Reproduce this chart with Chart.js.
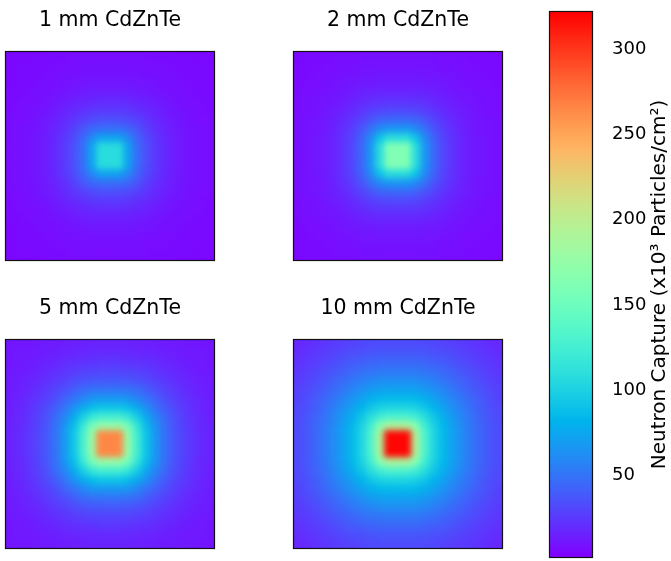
<!DOCTYPE html>
<html>
<head>
<meta charset="utf-8">
<title>Neutron capture maps</title>
<script src="https://cdn.jsdelivr.net/npm/chart.js"></script>
<style>
  body { margin: 0; background: #fff; }
  #wrap { position: relative; width: 671px; height: 561px; }
  canvas { position: absolute; }
</style>
</head>
<body>
<div id="wrap">
  <canvas id="p0" width="220" height="262" style="left:0px;top:0px"></canvas>
  <canvas id="p1" width="220" height="262" style="left:288px;top:0px"></canvas>
  <canvas id="p2" width="220" height="262" style="left:0px;top:288px"></canvas>
  <canvas id="p3" width="220" height="262" style="left:288px;top:288px"></canvas>
  <canvas id="cbar" width="131" height="561" style="left:540px;top:0px"></canvas>
</div>
<script>
// colour scale range, x10^3 particles/cm^2
const V_MIN = 2;
const V_MAX = 322;
const CBAR_TICKS = [50, 100, 150, 200, 250, 300];
const CBAR_LABEL = 'Neutron Capture (x10³ Particles/cm²)';
const TITLES = ['1 mm CdZnTe', '2 mm CdZnTe', '5 mm CdZnTe', '10 mm CdZnTe'];

// capture maps, 23 x 23 cells, top row first
const GRID_1MM = [
  [5,5,5,5,6,6,6,7,7,7,7,7,7,7,7,7,6,6,6,5,5,5,5],
  [5,5,6,6,6,7,7,7,8,8,8,8,8,8,8,7,7,7,6,6,6,5,5],
  [5,6,6,6,7,7,8,8,9,9,9,9,9,9,9,8,8,7,7,6,6,6,5],
  [5,6,6,7,8,8,9,10,10,11,11,11,11,11,10,10,9,8,8,7,6,6,5],
  [6,6,7,8,8,9,10,12,13,14,14,14,14,14,13,12,10,9,8,8,7,6,6],
  [6,7,7,8,9,11,13,15,17,18,19,19,19,18,17,15,13,11,9,8,7,7,6],
  [6,7,8,9,10,13,16,19,21,24,25,25,25,24,21,19,16,13,10,9,8,7,6],
  [7,7,8,10,12,15,19,23,28,32,34,34,34,32,28,23,19,15,12,10,8,7,7],
  [7,8,9,10,13,17,21,28,37,44,48,48,48,44,37,28,21,17,13,10,9,8,7],
  [7,8,9,11,14,18,24,32,44,60,72,72,72,60,44,32,24,18,14,11,9,8,7],
  [7,8,9,11,14,19,25,34,48,72,108,108,108,72,48,34,25,19,14,11,9,8,7],
  [7,8,9,11,14,19,25,34,48,72,108,108,108,72,48,34,25,19,14,11,9,8,7],
  [7,8,9,11,14,19,25,34,48,72,108,108,108,72,48,34,25,19,14,11,9,8,7],
  [7,8,9,11,14,18,24,32,44,60,72,72,72,60,44,32,24,18,14,11,9,8,7],
  [7,8,9,10,13,17,21,28,37,44,48,48,48,44,37,28,21,17,13,10,9,8,7],
  [7,7,8,10,12,15,19,23,28,32,34,34,34,32,28,23,19,15,12,10,8,7,7],
  [6,7,8,9,10,13,16,19,21,24,25,25,25,24,21,19,16,13,10,9,8,7,6],
  [6,7,7,8,9,11,13,15,17,18,19,19,19,18,17,15,13,11,9,8,7,7,6],
  [6,6,7,8,8,9,10,12,13,14,14,14,14,14,13,12,10,9,8,8,7,6,6],
  [5,6,6,7,8,8,9,10,10,11,11,11,11,11,10,10,9,8,8,7,6,6,5],
  [5,6,6,6,7,7,8,8,9,9,9,9,9,9,9,8,8,7,7,6,6,6,5],
  [5,5,6,6,6,7,7,7,8,8,8,8,8,8,8,7,7,7,6,6,6,5,5],
  [5,5,5,5,6,6,6,7,7,7,7,7,7,7,7,7,6,6,6,5,5,5,5]
];

const GRID_2MM = [
  [5,6,6,6,7,7,7,8,8,8,8,8,8,8,8,8,7,7,7,6,6,6,5],
  [6,6,6,7,7,8,8,9,9,9,9,9,9,9,9,9,8,8,7,7,6,6,6],
  [6,6,7,7,8,9,9,10,10,11,11,11,11,11,10,10,9,9,8,7,7,6,6],
  [6,7,7,8,9,10,11,12,12,13,13,13,13,13,12,12,11,10,9,8,7,7,6],
  [7,7,8,9,10,11,13,15,16,17,17,17,17,17,16,15,13,11,10,9,8,7,7],
  [7,8,9,10,11,13,16,18,21,22,23,23,23,22,21,18,16,13,11,10,9,8,7],
  [7,8,9,11,13,16,19,23,27,30,31,31,31,30,27,23,19,16,13,11,9,8,7],
  [8,9,10,12,15,18,23,29,36,42,45,45,45,42,36,29,23,18,15,12,10,9,8],
  [8,9,10,12,16,21,27,36,49,60,66,66,66,60,49,36,27,21,16,12,10,9,8],
  [8,9,11,13,17,22,30,42,60,90,108,108,108,90,60,42,30,22,17,13,11,9,8],
  [8,9,11,13,17,23,31,45,66,108,162,162,162,108,66,45,31,23,17,13,11,9,8],
  [8,9,11,13,17,23,31,45,66,108,162,162,162,108,66,45,31,23,17,13,11,9,8],
  [8,9,11,13,17,23,31,45,66,108,162,162,162,108,66,45,31,23,17,13,11,9,8],
  [8,9,11,13,17,22,30,42,60,90,108,108,108,90,60,42,30,22,17,13,11,9,8],
  [8,9,10,12,16,21,27,36,49,60,66,66,66,60,49,36,27,21,16,12,10,9,8],
  [8,9,10,12,15,18,23,29,36,42,45,45,45,42,36,29,23,18,15,12,10,9,8],
  [7,8,9,11,13,16,19,23,27,30,31,31,31,30,27,23,19,16,13,11,9,8,7],
  [7,8,9,10,11,13,16,18,21,22,23,23,23,22,21,18,16,13,11,10,9,8,7],
  [7,7,8,9,10,11,13,15,16,17,17,17,17,17,16,15,13,11,10,9,8,7,7],
  [6,7,7,8,9,10,11,12,12,13,13,13,13,13,12,12,11,10,9,8,7,7,6],
  [6,6,7,7,8,9,9,10,10,11,11,11,11,11,10,10,9,9,8,7,7,6,6],
  [6,6,6,7,7,8,8,9,9,9,9,9,9,9,9,9,8,8,7,7,6,6,6],
  [5,6,6,6,7,7,7,8,8,8,8,8,8,8,8,8,7,7,7,6,6,6,5]
];

const GRID_5MM = [
  [10,11,11,12,13,13,14,15,15,16,16,16,16,16,15,15,14,13,13,12,11,11,10],
  [11,12,12,13,14,15,16,17,18,18,19,19,19,18,18,17,16,15,14,13,12,12,11],
  [11,12,13,14,16,17,20,21,22,23,24,24,24,23,22,21,20,17,16,14,13,12,11],
  [12,13,14,16,18,21,23,26,28,29,30,30,30,29,28,26,23,21,18,16,14,13,12],
  [13,14,16,18,21,25,28,32,35,37,38,38,38,37,35,32,28,25,21,18,16,14,13],
  [13,15,17,21,25,29,34,40,46,49,50,50,50,49,46,40,34,29,25,21,17,15,13],
  [14,16,20,23,28,34,42,50,58,65,67,67,67,65,58,50,42,34,28,23,20,16,14],
  [15,17,21,26,32,40,50,63,76,87,91,91,91,87,76,63,50,40,32,26,21,17,15],
  [15,18,22,28,35,46,58,76,97,116,125,125,125,116,97,76,58,46,35,28,22,18,15],
  [16,18,23,29,37,49,65,87,116,155,175,175,175,155,116,87,65,49,37,29,23,18,16],
  [16,19,24,30,38,50,67,91,125,175,265,265,265,175,125,91,67,50,38,30,24,19,16],
  [16,19,24,30,38,50,67,91,125,175,265,265,265,175,125,91,67,50,38,30,24,19,16],
  [16,19,24,30,38,50,67,91,125,175,265,265,265,175,125,91,67,50,38,30,24,19,16],
  [16,18,23,29,37,49,65,87,116,155,175,175,175,155,116,87,65,49,37,29,23,18,16],
  [15,18,22,28,35,46,58,76,97,116,125,125,125,116,97,76,58,46,35,28,22,18,15],
  [15,17,21,26,32,40,50,63,76,87,91,91,91,87,76,63,50,40,32,26,21,17,15],
  [14,16,20,23,28,34,42,50,58,65,67,67,67,65,58,50,42,34,28,23,20,16,14],
  [13,15,17,21,25,29,34,40,46,49,50,50,50,49,46,40,34,29,25,21,17,15,13],
  [13,14,16,18,21,25,28,32,35,37,38,38,38,37,35,32,28,25,21,18,16,14,13],
  [12,13,14,16,18,21,23,26,28,29,30,30,30,29,28,26,23,21,18,16,14,13,12],
  [11,12,13,14,16,17,20,21,22,23,24,24,24,23,22,21,20,17,16,14,13,12,11],
  [11,12,12,13,14,15,16,17,18,18,19,19,19,18,18,17,16,15,14,13,12,12,11],
  [10,11,11,12,13,13,14,15,15,16,16,16,16,16,15,15,14,13,13,12,11,11,10]
];

const GRID_10MM = [
  [18,20,22,24,26,28,29,31,32,33,33,33,33,33,32,31,29,28,26,24,22,20,18],
  [20,22,25,27,29,32,34,35,37,38,38,38,38,38,37,35,34,32,29,27,25,22,20],
  [22,25,27,30,33,36,39,41,43,45,45,45,45,45,43,41,39,36,33,30,27,25,22],
  [24,27,30,34,37,41,45,48,50,52,53,53,53,52,50,48,45,41,37,34,30,27,24],
  [26,29,33,37,42,46,51,55,59,61,62,62,62,61,59,55,51,46,42,37,33,29,26],
  [28,32,36,41,46,52,58,63,68,71,72,72,72,71,68,63,58,52,46,41,36,32,28],
  [29,34,39,45,51,58,65,72,79,84,85,85,85,84,79,72,65,58,51,45,39,34,29],
  [31,35,41,48,55,63,72,82,92,99,102,102,102,99,92,82,72,63,55,48,41,35,31],
  [32,37,43,50,59,68,79,92,108,122,130,130,130,122,108,92,79,68,59,50,43,37,32],
  [33,38,45,52,61,71,84,99,122,165,190,190,190,165,122,99,84,71,61,52,45,38,33],
  [33,38,45,53,62,72,85,102,130,190,320,320,320,190,130,102,85,72,62,53,45,38,33],
  [33,38,45,53,62,72,85,102,130,190,320,320,320,190,130,102,85,72,62,53,45,38,33],
  [33,38,45,53,62,72,85,102,130,190,320,320,320,190,130,102,85,72,62,53,45,38,33],
  [33,38,45,52,61,71,84,99,122,165,190,190,190,165,122,99,84,71,61,52,45,38,33],
  [32,37,43,50,59,68,79,92,108,122,130,130,130,122,108,92,79,68,59,50,43,37,32],
  [31,35,41,48,55,63,72,82,92,99,102,102,102,99,92,82,72,63,55,48,41,35,31],
  [29,34,39,45,51,58,65,72,79,84,85,85,85,84,79,72,65,58,51,45,39,34,29],
  [28,32,36,41,46,52,58,63,68,71,72,72,72,71,68,63,58,52,46,41,36,32,28],
  [26,29,33,37,42,46,51,55,59,61,62,62,62,61,59,55,51,46,42,37,33,29,26],
  [24,27,30,34,37,41,45,48,50,52,53,53,53,52,50,48,45,41,37,34,30,27,24],
  [22,25,27,30,33,36,39,41,43,45,45,45,45,45,43,41,39,36,33,30,27,25,22],
  [20,22,25,27,29,32,34,35,37,38,38,38,38,38,37,35,34,32,29,27,25,22,20],
  [18,20,22,24,26,28,29,31,32,33,33,33,33,33,32,31,29,28,26,24,22,20,18]
];

Chart.defaults.font.family = '"DejaVu Sans", sans-serif';
Chart.defaults.color = '#000';

// matplotlib "rainbow" colormap
function rainbow(v) {
  let t = (v - V_MIN) / (V_MAX - V_MIN);
  t = Math.min(1, Math.max(0, t));
  const r = Math.min(1, Math.abs(2 * t - 0.5));
  const g = Math.sin(Math.PI * t);
  const b = Math.cos(Math.PI * t / 2);
  return 'rgb(' + Math.round(r * 255) + ',' + Math.round(g * 255) + ',' + Math.round(b * 255) + ')';
}

// soften the cell edges like imshow's interpolation does
const smooth = {
  id: 'smooth',
  afterDatasetsDraw(chart) {
    const { ctx, canvas, chartArea: a } = chart;
    const x = Math.round(a.left), y = Math.round(a.top);
    const w = Math.round(a.right) - x, h = Math.round(a.bottom) - y;
    ctx.save();
    ctx.beginPath();
    ctx.rect(x, y, w, h);
    ctx.clip();
    ctx.filter = 'blur(3px)';
    ctx.drawImage(canvas, x, y, w, h, x, y, w, h);
    ctx.restore();
  }
};

// black box round the plot area
const frame = {
  id: 'frame',
  afterDatasetsDraw(chart) {
    const { ctx, chartArea: a } = chart;
    ctx.save();
    ctx.strokeStyle = '#111';
    ctx.lineWidth = 1.2;
    ctx.strokeRect(Math.round(a.left) - 0.5, Math.round(a.top) - 0.5,
                   Math.round(a.right - a.left) + 1, Math.round(a.bottom - a.top) + 1);
    ctx.restore();
  }
};

function heatmap(id, title, grid) {
  const n = grid.length;
  const cols = grid[0].map((_, j) => j);
  // stacked bars: dataset 0 is the bottom row
  const datasets = grid.slice().reverse().map(row => ({
    data: row.map(() => 1),
    backgroundColor: row.map(rainbow),
    borderWidth: 0,
    barPercentage: 1,
    categoryPercentage: 1
  }));
  new Chart(document.getElementById(id), {
    type: 'bar',
    data: { labels: cols, datasets: datasets },
    options: {
      responsive: false,
      animation: false,
      layout: { padding: { left: 6, right: 6, top: 0, bottom: 2 } },
      scales: {
        x: { stacked: true, display: false },
        y: { stacked: true, display: false, min: 0, max: n }
      },
      plugins: {
        legend: { display: false },
        tooltip: { enabled: false },
        title: {
          display: true,
          text: title,
          font: { size: 20.5, weight: 'normal' },
          color: '#000',
          padding: { top: 8, bottom: 19.4 }
        }
      }
    },
    plugins: [smooth, frame]
  });
}

heatmap('p0', TITLES[0], GRID_1MM);
heatmap('p1', TITLES[1], GRID_2MM);
heatmap('p2', TITLES[2], GRID_5MM);
heatmap('p3', TITLES[3], GRID_10MM);

// colour bar
function cbarGradient(context) {
  const chart = context.chart;
  const a = chart.chartArea;
  if (!a) return null;
  const g = chart.ctx.createLinearGradient(0, a.bottom, 0, a.top);
  for (let k = 0; k <= 32; k++) {
    g.addColorStop(k / 32, rainbow(V_MIN + (k / 32) * (V_MAX - V_MIN)));
  }
  return g;
}

const cbarLabel = {
  id: 'cbarLabel',
  afterDraw(chart) {
    const { ctx, chartArea: a } = chart;
    ctx.save();
    ctx.translate(a.right + 68, (a.top + a.bottom) / 2);
    ctx.rotate(-Math.PI / 2);
    ctx.font = '20px "DejaVu Sans"';
    ctx.fillStyle = '#000';
    ctx.textAlign = 'center';
    ctx.textBaseline = 'middle';
    ctx.fillText(CBAR_LABEL, 0, 0);
    ctx.restore();
  }
};

new Chart(document.getElementById('cbar'), {
  type: 'bar',
  data: {
    labels: [''],
    datasets: [{
      data: [[V_MIN, V_MAX]],
      backgroundColor: cbarGradient,
      borderWidth: 0,
      barPercentage: 1,
      categoryPercentage: 1
    }]
  },
  options: {
    responsive: false,
    animation: false,
    layout: { padding: { left: 10, top: 12, bottom: 4, right: 0 } },
    scales: {
      x: { display: false },
      y: {
        position: 'right',
        min: V_MIN,
        max: V_MAX,
        grid: { display: false, drawTicks: false },
        border: { display: false },
        ticks: { padding: 20, font: { size: 18 }, color: '#000' },
        afterBuildTicks: s => { s.ticks = CBAR_TICKS.map(v => ({ value: v })); },
        afterFit: s => { s.width = 79; s.paddingTop = 0; s.paddingBottom = 0; }
      }
    },
    plugins: { legend: { display: false }, tooltip: { enabled: false } }
  },
  plugins: [frame, cbarLabel]
});
</script>
</body>
</html>
